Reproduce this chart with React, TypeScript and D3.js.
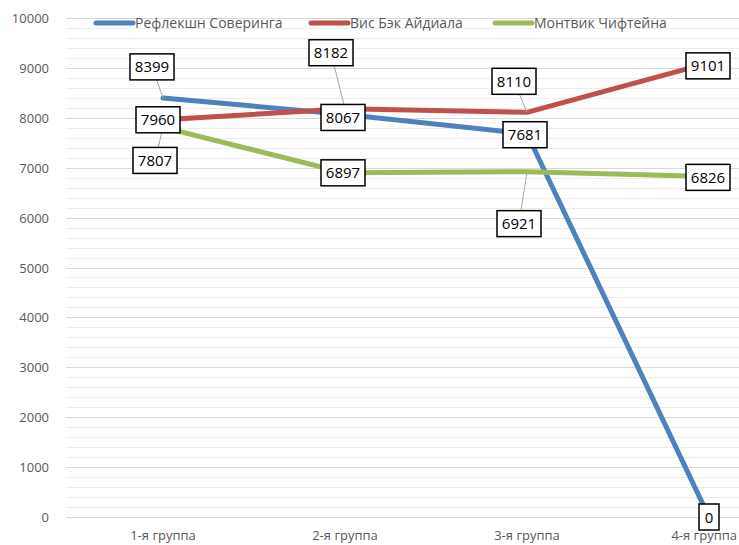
import React, { useEffect, useRef } from "react";
import * as d3 from "d3";

const categories = ["1-я группа", "2-я группа", "3-я группа", "4-я группа"];
const seriesNames = ["Рефлекшн Соверинга", "Вис Бэк Айдиала", "Монтвик Чифтейна"];
const seriesA = [8399, 8067, 7681, 0];
const seriesB = [7960, 8182, 8110, 9101];
const seriesC = [7807, 6897, 6921, 6826];
const yTicks = [0, 1000, 2000, 3000, 4000, 5000, 6000, 7000, 8000, 9000, 10000];

const colors = ["#4F81BD", "#C0504D", "#9BBB59"];
// label offsets (dx, dy) from point, in pixels
const labelOffsets = [
  [[-11, -31], [-2, 3], [-2, 1], [0, 0]],
  [[-5, 0], [-14, -56], [-13, -31], [-1, 3]],
  [[-8, 33], [-2, 0], [-8, 52], [-1, 1]],
];

const W = 739;
const H = 545;
const FONT = "'Open Sans', sans-serif";

export default function App() {
  const ref = useRef<SVGSVGElement>(null);
  useEffect(() => {
    const svg = d3.select(ref.current);
    svg.selectAll("*").remove();
    const x = d3.scalePoint<string>().domain(categories).range([163, 709]);
    const y = d3.scaleLinear().domain([0, 10000]).range([517, 18]);
    const left = 66;
    const right = 739;

    // minor gridlines
    const minor = d3.range(0, 10001, 200).filter((v) => v % 1000 !== 0);
    svg.append("g").selectAll("line").data(minor).join("line")
      .attr("x1", left).attr("x2", right)
      .attr("y1", (d) => Math.round(y(d)) + 0.5).attr("y2", (d) => Math.round(y(d)) + 0.5)
      .attr("stroke", "#ececec").attr("stroke-width", 1);
    svg.append("g").selectAll("line").data(yTicks).join("line")
      .attr("x1", left).attr("x2", right)
      .attr("y1", (d) => Math.round(y(d)) + 0.5).attr("y2", (d) => Math.round(y(d)) + 0.5)
      .attr("stroke", "#d9d9d9").attr("stroke-width", 1);

    svg.append("g").selectAll("text").data(yTicks).join("text")
      .attr("x", 49).attr("y", (d) => y(d) + 5)
      .attr("text-anchor", "end")
      .attr("font-family", FONT).attr("font-size", 13).attr("fill", "#595959")
      .text((d) => String(d));

    svg.append("g").selectAll("text").data(categories).join("text")
      .attr("x", (d) => x(d)!).attr("y", 540)
      .attr("text-anchor", "middle")
      .attr("font-family", FONT).attr("font-size", 13).attr("fill", "#595959")
      .text((d) => d)
      .each(function (d) {
        const el = this as SVGTextElement;
        const w = el.getComputedTextLength();
        const cx = x(d)!;
        if (cx + w / 2 > W - 2) el.setAttribute("x", String(W - 2 - w / 2));
      });

    const allSeries = [seriesA, seriesB, seriesC];
    const line = d3.line<number>().x((_, i) => x(categories[i])!).y((d) => y(d));
    allSeries.forEach((s, k) => {
      svg.append("path").datum(s).attr("d", line)
        .attr("fill", "none").attr("stroke", colors[k]).attr("stroke-width", 5)
        .attr("stroke-linejoin", "round").attr("stroke-linecap", "round");
    });

    // legend
    const legendX = [96, 311, 495];
    seriesNames.forEach((n, k) => {
      svg.append("line").attr("x1", legendX[k]).attr("x2", legendX[k] + 37)
        .attr("y1", 23).attr("y2", 23).attr("stroke", colors[k]).attr("stroke-width", 5)
        .attr("stroke-linecap", "round");
      svg.append("text").attr("x", legendX[k] + 39).attr("y", 28)
        .attr("font-family", FONT).attr("font-size", 14).attr("fill", "#595959").text(n);
    });

    // labels
    const labels: { px: number; py: number; cx: number; cy: number; v: number }[] = [];
    allSeries.forEach((s, k) => {
      s.forEach((v, i) => {
        const px = x(categories[i])!;
        const py = y(v);
        labels.push({ px, py, cx: px + labelOffsets[k][i][0], cy: py + labelOffsets[k][i][1], v });
      });
    });
    const lg = svg.append("g");
    labels.forEach((l) => {
      if (Math.hypot(l.cx - l.px, l.cy - l.py) > 14) {
        lg.append("line").attr("x1", l.cx).attr("y1", l.cy).attr("x2", l.px).attr("y2", l.py)
          .attr("stroke", "#a6a6a6").attr("stroke-width", 1);
      }
    });
    const bg = svg.append("g");
    labels.forEach((l) => {
      const t = String(l.v);
      const w = t.length * 8 + 12;
      const h = 26;
      bg.append("rect").attr("x", l.cx - w / 2).attr("y", l.cy - h / 2)
        .attr("width", w).attr("height", h).attr("fill", "white")
        .attr("stroke", "black").attr("stroke-width", 1.5);
      bg.append("text").attr("x", l.cx).attr("y", l.cy + 5.5)
        .attr("text-anchor", "middle").attr("font-family", FONT).attr("font-size", 15)
        .attr("fill", "black").text(t);
    });
  }, []);
  return (
    <svg ref={ref} width={W} height={H}
      style={{ position: "absolute", left: 0, top: 0, background: "white" }} />
  );
}
